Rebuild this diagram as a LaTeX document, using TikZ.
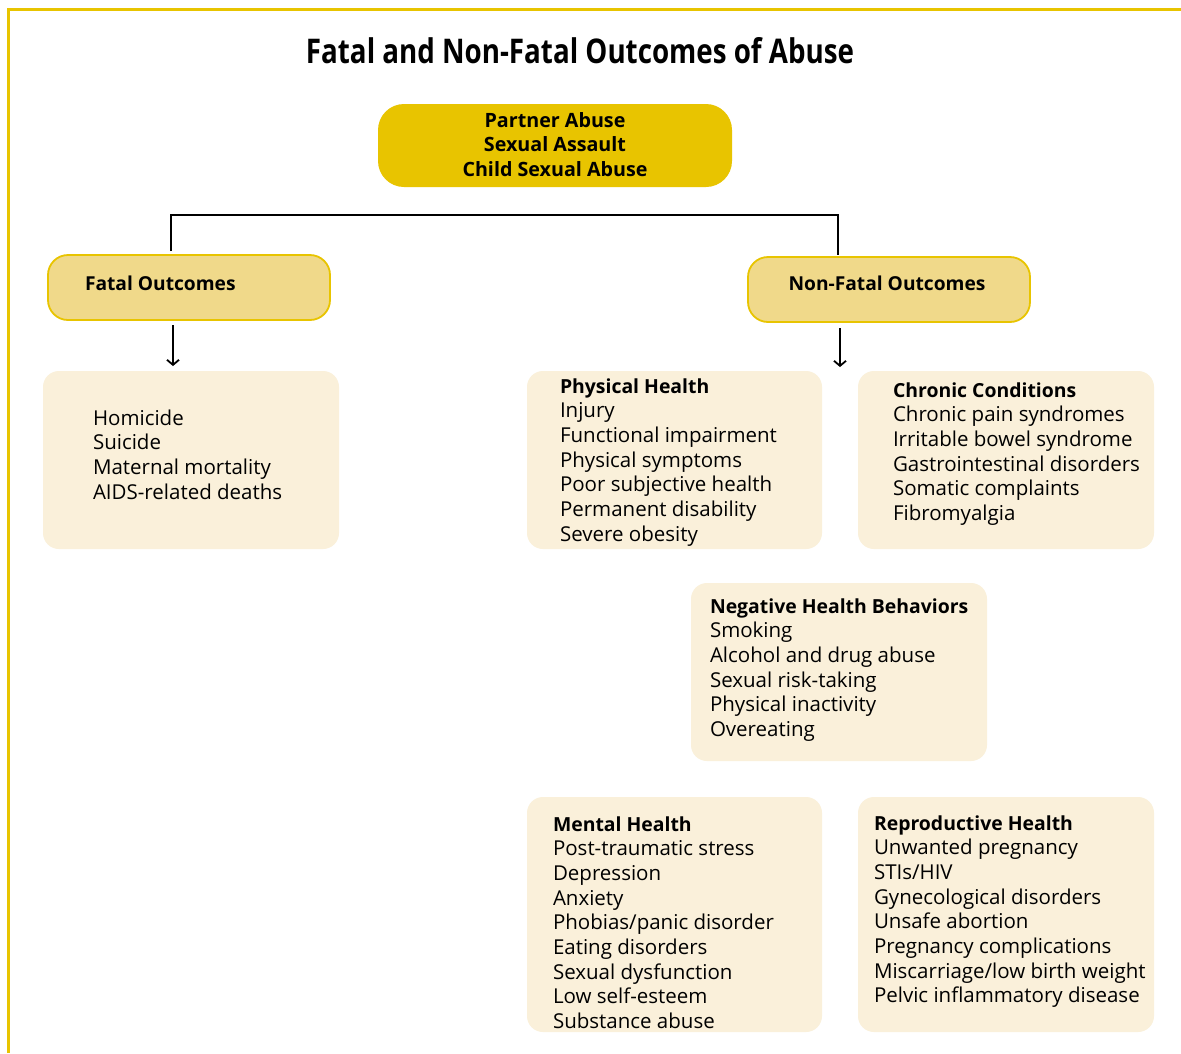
\documentclass[tikz,border=0pt]{standalone}
\usepackage{fontspec}
\usepackage{graphicx}
\setmainfont{Open Sans}
\usetikzlibrary{arrows.meta}
\definecolor{frameY}{HTML}{E8C400}
\definecolor{topY}{HTML}{E8C400}
\definecolor{midY}{HTML}{F0D98A}
\definecolor{cream}{HTML}{FAF0DA}
\newcommand\fstrut{\rule{0pt}{16pt}}
\newcommand\hd[1]{{\fontsize{19.4}{24.7}\selectfont\bfseries #1}}
\begin{document}
\begin{tikzpicture}[x=1pt,y=-1pt,
  every node/.style={inner sep=0pt, outer sep=0pt},
  frameline/.style={draw=frameY, line width=3pt},
  topbox/.style={fill=topY, rounded corners=26pt, minimum width=354pt, minimum height=83pt},
  midbox/.style={fill=midY, draw=frameY, line width=1.8pt, rounded corners=20pt, minimum width=282pt, minimum height=65pt},
  listbox/.style={fill=cream, rounded corners=16pt},
  listtext/.style={anchor=north west, align=left, font=\fontsize{20.5}{24.7}\selectfont},
  toptext/.style={anchor=north, align=center, font=\fontsize{19.7}{24.5}\selectfont\bfseries},
  midtext/.style={font=\fontsize{19.2}{24}\selectfont\bfseries},
  conn/.style={draw=black, line width=1.8pt},
  arrowline/.style={draw=black, line width=1.8pt, -{Straight Barb[length=5pt,width=12pt]}}
]
\useasboundingbox (0,0) rectangle (1181,1053);
\fill[white] (0,0) rectangle (1181,1053);
% frame
\draw[frameline] (8,1053) -- (8,9) -- (1181,9);

% title
\node[anchor=base] (title) at (580,63) {\resizebox{548pt}{\height}{\fontsize{34}{40}\selectfont\bfseries Fatal and Non-Fatal Outcomes of Abuse}};

% top box
\node[topbox] (src) at (555,145.5) {};
\node[toptext] (srctext) at (555,111) {\fstrut Partner Abuse\\Sexual Assault\\Child Sexual Abuse};

% second level
\node[midbox] (fatal) at (189,287.5) {};
\node[midtext, anchor=base west] (fataltext) at (85,290) {Fatal Outcomes};
\node[midbox] (nonfatal) at (889,289.5) {};
\node[midtext, anchor=base] (nonfataltext) at (887,290) {Non-Fatal Outcomes};

% connector bar
\coordinate (bar) at (0,215);
\coordinate (fA) at ([shift={(-18,-4)}]fatal.north);
\coordinate (nA) at ([shift={(-51,-2)}]nonfatal.north);
\draw[conn] (fA) |- (nA |- bar) -- (nA);

% list boxes
\node[listbox, minimum width=296pt, minimum height=178pt] (fatlist) at (191,460) {};
\node[listbox, minimum width=295pt, minimum height=178pt] (phys) at (674.5,460) {};
\node[listbox, minimum width=296pt, minimum height=178pt] (chron) at (1006,460) {};
\node[listbox, minimum width=296pt, minimum height=178pt] (neg) at (839,672) {};
\node[listbox, minimum width=295pt, minimum height=235pt] (mental) at (674.5,914.5) {};
\node[listbox, minimum width=296pt, minimum height=235pt] (repro) at (1006,914.5) {};

% arrows
\coordinate (nfend) at (840,367);
\draw[arrowline, shorten <=5pt, shorten >=5pt] ([shift={(-16,0)}]fatal.south) -- ([shift={(-18,0)}]fatlist.north);
\draw[arrowline, shorten <=6pt] ([shift={(-49,0)}]nonfatal.south) -- (nfend);

% list texts
\node[listtext] (fattext) at (93,409) {\fstrut Homicide\\Suicide\\Maternal mortality\\AIDS-related deaths};
\node[listtext] (phystext) at (560,377) {\fstrut\hd{Physical Health}\\Injury\\Functional impairment\\Physical symptoms\\Poor subjective health\\Permanent disability\\Severe obesity};
\node[listtext] (chrontext) at (893,381) {\fstrut\hd{Chronic Conditions}\\Chronic pain syndromes\\Irritable bowel syndrome\\Gastrointestinal disorders\\Somatic complaints\\Fibromyalgia};
\node[listtext] (negtext) at (710,597) {\fstrut\hd{Negative Health Behaviors}\\Smoking\\Alcohol and drug abuse\\Sexual risk-taking\\Physical inactivity\\Overeating};
\node[listtext] (mentaltext) at (553,815) {\fstrut\hd{Mental Health}\\Post-traumatic stress\\Depression\\Anxiety\\Phobias/panic disorder\\Eating disorders\\Sexual dysfunction\\Low self-esteem\\Substance abuse};
\node[listtext] (reprotext) at (874,814) {\fstrut\hd{Reproductive Health}\\Unwanted pregnancy\\STIs/HIV\\Gynecological disorders\\Unsafe abortion\\Pregnancy complications\\Miscarriage/low birth weight\\Pelvic inflammatory disease};
\end{tikzpicture}
\end{document}
